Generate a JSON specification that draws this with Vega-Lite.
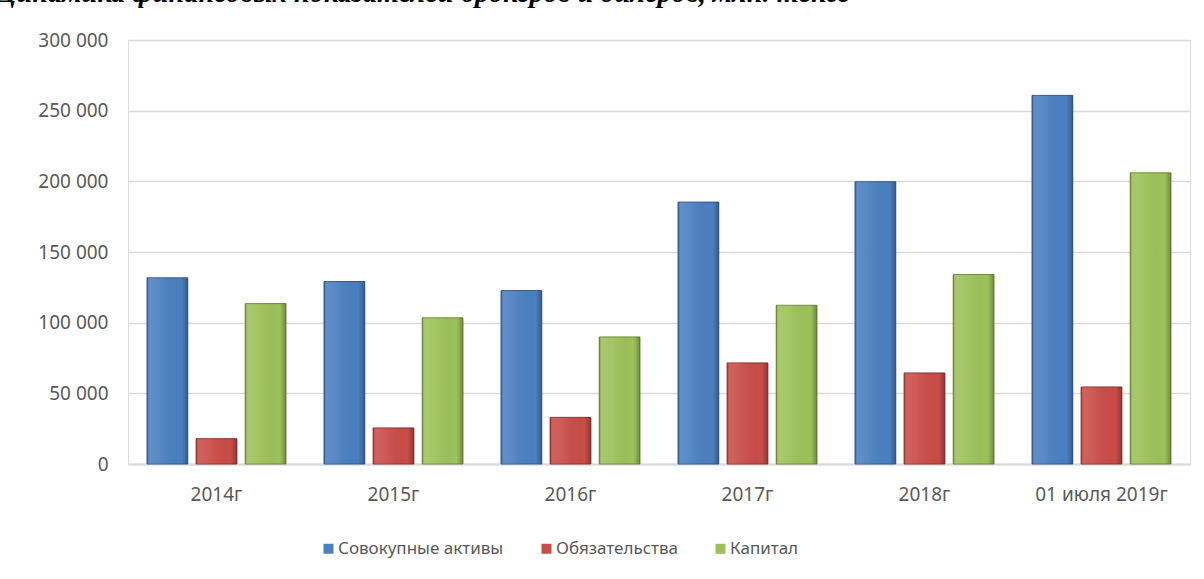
{
  "$schema": "https://vega.github.io/schema/vega-lite/v6.json",
  "autosize": "none",
  "width": 1062,
  "height": 424,
  "padding": {"left": 128, "top": 40, "right": 14, "bottom": 115},
  "background": "white",
  "title": {
    "text": "Динамика финансовых показателей брокеров и дилеров, млн. тенге",
    "orient": "top",
    "anchor": "start",
    "frame": "group",
    "dx": -131,
    "offset": 1,
    "baseline": "alphabetic",
    "font": "Liberation Serif",
    "fontSize": 28.4,
    "fontWeight": "bold",
    "fontStyle": "italic",
    "color": "black"
  },
  "data": {
    "values": [
      {"period": "2014г", "series": "Совокупные активы", "value": 131700},
      {"period": "2014г", "series": "Обязательства", "value": 17900},
      {"period": "2014г", "series": "Капитал", "value": 113500},
      {"period": "2015г", "series": "Совокупные активы", "value": 129100},
      {"period": "2015г", "series": "Обязательства", "value": 25500},
      {"period": "2015г", "series": "Капитал", "value": 103400},
      {"period": "2016г", "series": "Совокупные активы", "value": 122700},
      {"period": "2016г", "series": "Обязательства", "value": 33000},
      {"period": "2016г", "series": "Капитал", "value": 89900},
      {"period": "2017г", "series": "Совокупные активы", "value": 185300},
      {"period": "2017г", "series": "Обязательства", "value": 71500},
      {"period": "2017г", "series": "Капитал", "value": 112300},
      {"period": "2018г", "series": "Совокупные активы", "value": 199700},
      {"period": "2018г", "series": "Обязательства", "value": 64400},
      {"period": "2018г", "series": "Капитал", "value": 134100},
      {"period": "01 июля 2019г", "series": "Совокупные активы", "value": 260800},
      {"period": "01 июля 2019г", "series": "Обязательства", "value": 54500},
      {"period": "01 июля 2019г", "series": "Капитал", "value": 206000}
    ]
  },
  "encoding": {
    "x": {
      "field": "period",
      "type": "nominal",
      "sort": null,
      "scale": {"paddingInner": 0.215, "paddingOuter": 0.1075},
      "axis": {
        "title": null,
        "labelAngle": 0,
        "ticks": false,
        "labelPadding": 21,
        "labelFont": "Noto Sans",
        "labelFontSize": 19,
        "labelColor": "#595959",
        "domainColor": "#d9d9d9",
        "domainWidth": 2,
        "grid": false
      }
    },
    "xOffset": {
      "field": "series",
      "type": "nominal",
      "sort": ["Совокупные активы", "Обязательства", "Капитал"],
      "scale": {"paddingInner": 0.17, "paddingOuter": 0}
    },
    "y": {
      "field": "value",
      "type": "quantitative",
      "scale": {"domain": [0, 300000], "nice": false},
      "axis": {
        "title": null,
        "values": [0, 50000, 100000, 150000, 200000, 250000, 300000],
        "labelExpr": "replace(format(datum.value, ','), ',', ' ')",
        "ticks": false,
        "domain": false,
        "labelPadding": 20,
        "labelFont": "Noto Sans",
        "labelFontSize": 19,
        "labelColor": "#595959",
        "gridColor": "#d9d9d9",
        "gridWidth": 1.3
      }
    }
  },
  "layer": [
    {
      "mark": {"type": "bar", "strokeWidth": 1},
      "encoding": {
        "color": {
          "field": "series",
          "type": "nominal",
          "sort": ["Совокупные активы", "Обязательства", "Капитал"],
          "scale": {
            "domain": ["Совокупные активы", "Обязательства", "Капитал"],
            "range": ["#4a7fc0", "#c94c48", "#9dc15a"]
          },
          "legend": {
            "title": null,
            "orient": "none",
            "legendX": 192,
            "legendY": 500,
            "direction": "horizontal",
            "symbolType": "square",
            "symbolSize": 100,
            "symbolStrokeWidth": 0,
            "labelFont": "Noto Sans",
            "labelFontSize": 17,
            "labelColor": "#595959",
            "labelLimit": 400,
            "columnPadding": 34,
            "labelOffset": 1
          }
        },
        "stroke": {
          "field": "series",
          "type": "nominal",
          "scale": {
            "domain": ["Совокупные активы", "Обязательства", "Капитал"],
            "range": ["#2f5a8f", "#8e302d", "#6e8e35"]
          },
          "legend": null
        }
      }
    },
    {
      "mark": {
        "type": "bar",
        "color": {
          "x1": 0, "y1": 0, "x2": 1, "y2": 0,
          "gradient": "linear",
          "stops": [
            {"offset": 0, "color": "rgba(0,0,0,0.22)"},
            {"offset": 0.06, "color": "rgba(255,255,255,0.12)"},
            {"offset": 0.3, "color": "rgba(255,255,255,0.08)"},
            {"offset": 0.85, "color": "rgba(0,0,0,0.0)"},
            {"offset": 1, "color": "rgba(0,0,0,0.28)"}
          ]
        }
      },
      "encoding": {}
    }
  ]
}
